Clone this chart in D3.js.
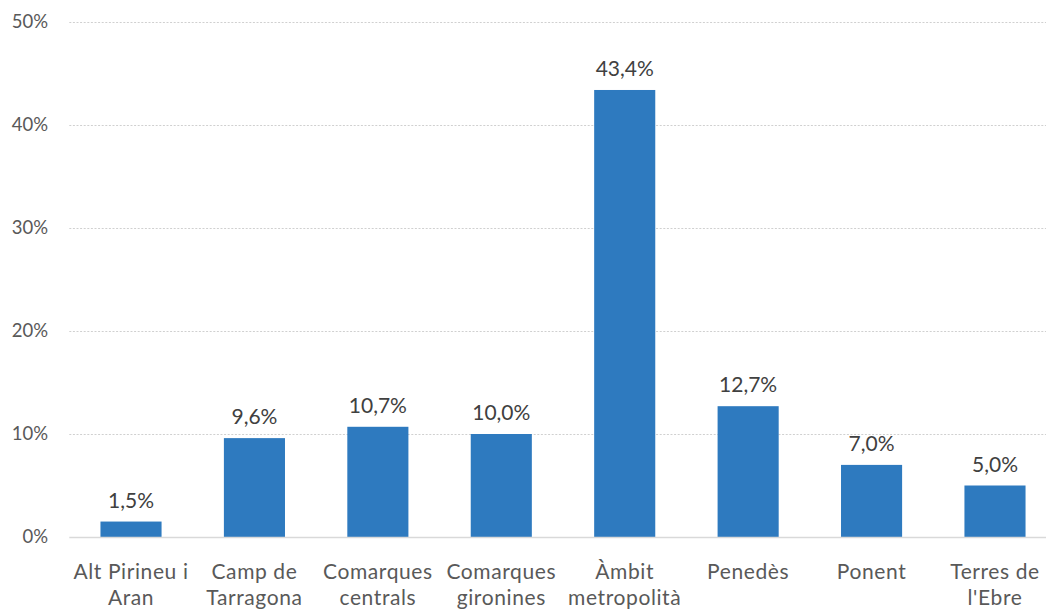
<!DOCTYPE html>
<html>
<head>
<meta charset="utf-8">
<title>Bar chart</title>
<script src="https://d3js.org/d3.v7.min.js"></script>
<style>
  body { margin: 0; background: #fff; }
  text { font-family: Lato, "Open Sans", sans-serif; }
</style>
</head>
<body>
<script>

// data
var categories = ["Alt Pirineu i Aran", "Camp de Tarragona", "Comarques centrals", "Comarques gironines",
                  "Àmbit metropolità", "Penedès", "Ponent", "Terres de l'Ebre"];
var tickLabels = [["Alt Pirineu i", "Aran"], ["Camp de", "Tarragona"], ["Comarques", "centrals"],
                  ["Comarques", "gironines"], ["Àmbit", "metropolità"], ["Penedès"], ["Ponent"],
                  ["Terres de", "l'Ebre"]];
var values = [1.5, 9.6, 10.7, 10.0, 43.4, 12.7, 7.0, 5.0];
var yTicks = [0, 10, 20, 30, 40, 50];

var W = 1046, H = 613;
var x0 = 69.3, x1 = 1056.7, yBase = 537, yTop = 22;

var svg = d3.select("body").append("svg")
    .attr("width", W)
    .attr("height", H);

var x = d3.scaleBand()
    .domain(categories)
    .range([x0, x1])
    .paddingInner(0.505)
    .paddingOuter(0.2525);

var y = d3.scaleLinear()
    .domain([0, 50])
    .range([yBase, yTop]);

// gridlines
svg.append("g").selectAll("line")
    .data(yTicks.filter(function(d) { return d > 0; }))
    .enter().append("line")
    .attr("x1", x0).attr("x2", W)
    .attr("y1", function(d) { return y(d) + 0.5; })
    .attr("y2", function(d) { return y(d) + 0.5; })
    .attr("stroke", "#d0d0d0")
    .attr("stroke-width", 1)
    .attr("stroke-dasharray", "2,1.6");

// y axis labels
var yAxis = d3.axisLeft(y)
    .tickValues(yTicks)
    .tickFormat(function(d) { return d + "%"; })
    .tickSize(0)
    .tickPadding(0);

svg.append("g")
    .attr("transform", "translate(48,0)")
    .call(yAxis)
    .call(function(g) { g.select(".domain").remove(); })
    .selectAll("text")
    .attr("fill", "#595959")
    .style("font-size", "18.5px")
    .style("font-family", "Lato, sans-serif");

// bars
svg.append("g").selectAll("rect")
    .data(values)
    .enter().append("rect")
    .attr("x", function(d, i) { return x(categories[i]); })
    .attr("width", x.bandwidth())
    .attr("y", function(d) { return y(d); })
    .attr("height", function(d) { return yBase - y(d); })
    .attr("fill", "#2e7abf");

// baseline
svg.append("line")
    .attr("x1", x0).attr("x2", W)
    .attr("y1", yBase + 0.5).attr("y2", yBase + 0.5)
    .attr("stroke", "#d9d9d9")
    .attr("stroke-width", 1.5);

// data labels
svg.append("g").selectAll("text")
    .data(values)
    .enter().append("text")
    .attr("x", function(d, i) { return x(categories[i]) + x.bandwidth() / 2; })
    .attr("y", function(d) { return y(d) - 14; })
    .attr("text-anchor", "middle")
    .attr("fill", "#404040")
    .style("font-size", "21px")
    .text(function(d) { return d.toFixed(1).replace(".", ",") + "%"; });

// category labels
var xl = svg.append("g").selectAll("text")
    .data(categories)
    .enter().append("text")
    .attr("x", function(d) { return x(d) + x.bandwidth() / 2; })
    .attr("y", 579)
    .attr("text-anchor", "middle")
    .attr("fill", "#595959")
    .style("font-size", "21px")
    .style("letter-spacing", "0.6px");

xl.selectAll("tspan")
    .data(function(d, i) { return tickLabels[i]; })
    .enter().append("tspan")
    .attr("x", function() { return d3.select(this.parentNode).attr("x"); })
    .attr("dy", function(d, i) { return i === 0 ? 0 : 26; })
    .text(function(d) { return d; });

</script>
</body>
</html>
